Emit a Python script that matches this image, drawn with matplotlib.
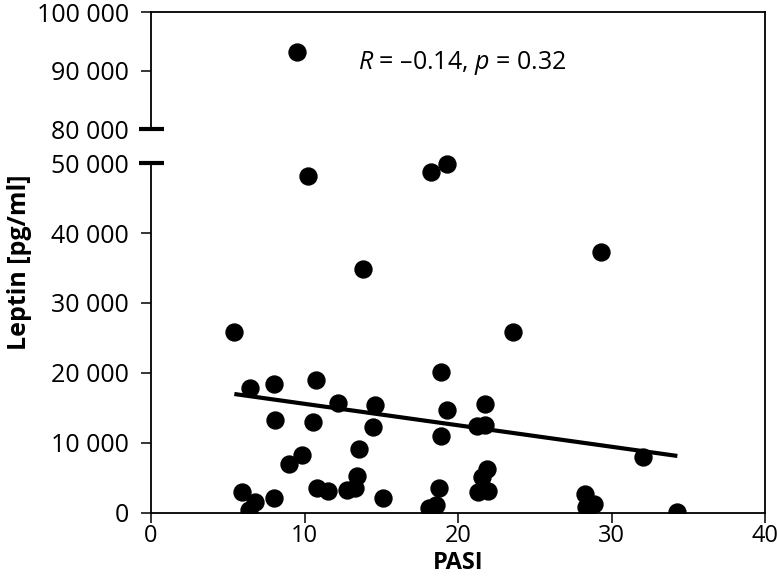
import numpy as np
import matplotlib
matplotlib.use("Agg")
import matplotlib.pyplot as plt
from matplotlib.ticker import FuncFormatter

plt.rcParams["font.family"] = ["Open Sans", "DejaVu Sans"]
plt.rcParams["mathtext.fontset"] = "custom"
plt.rcParams["mathtext.rm"] = "Open Sans"
plt.rcParams["mathtext.it"] = "Open Sans:italic"

# PASI vs leptin
pasi = [5.43, 6.45, 8.01, 10.75, 12.16, 14.61, 18.89, 19.26, 21.76, 21.26,
        21.76, 8.08, 10.53, 14.48, 18.89, 13.53, 9.82, 9.01, 21.87, 21.54,
        13.40, 5.93, 10.84, 11.55, 12.75, 13.30, 18.78, 21.32, 21.98, 6.78,
        6.41, 8.01, 15.13, 18.13, 18.55, 23.60, 10.25, 18.24, 19.26, 13.79,
        29.30, 32.07, 28.27, 28.86, 28.34, 34.29, 9.53]
leptin = [25800, 17800, 18500, 19000, 15750, 15450, 20200, 14700, 15600, 12450,
          12600, 13300, 13000, 12250, 11050, 9200, 8300, 7000, 6300, 5200,
          5250, 3050, 3550, 3200, 3300, 3600, 3550, 3050, 3200, 1600,
          450, 2100, 2200, 700, 1150, 25800, 48150, 48700, 49850, 34850,
          37350, 8050, 2700, 1300, 800, 200, 93200]

# regression line ends
fit_x = [5.43, 34.29]
fit_y = [17000, 8150]

low_ticks = [0, 10000, 20000, 30000, 40000, 50000]
high_ticks = [80000, 90000, 100000]
x_ticks = [0, 10, 20, 30, 40]

# broken y axis: 0-50000 and 80000-100000 on one axes
bp = np.array([50000.0, 80000.0])
def fwd(y):
    y = np.asarray(y, dtype=float)
    return np.where(y <= 50000, y * 350 / 50000,
           np.where(y >= 80000, 384 + (y - 80000) * 117 / 20000,
                    350 + (y - 50000) * 34 / 30000))
def inv(t):
    t = np.asarray(t, dtype=float)
    return np.where(t <= 350, t * 50000 / 350,
           np.where(t >= 384, 80000 + (t - 384) * 20000 / 117,
                    50000 + (t - 350) * 30000 / 34))

fig = plt.figure(figsize=(7.77, 5.85), dpi=100)
ax = fig.add_axes([151/777, 72/585, 614/777, 501/585])
ax.set_yscale("function", functions=(fwd, inv))
ax.set_xlim(0, 40)
ax.set_ylim(0, 100000)

ax.plot(fit_x, fit_y, color="black", lw=3, solid_capstyle="butt", zorder=2)
ax.plot(pasi, leptin, "o", color="black", ms=12.2, mec="black", zorder=3)

FS = 18
ax.set_xticks(x_ticks)
ax.set_yticks(low_ticks + high_ticks)
ax.yaxis.set_major_formatter(FuncFormatter(lambda v, p: f"{v:,.0f}".replace(",", " ")))
ax.tick_params(direction="out", length=7, width=1.1, labelsize=FS, colors="black")
ax.tick_params(axis="y", pad=9)
ax.tick_params(axis="x", pad=1, labelsize=17)

for s in ["top", "right", "bottom"]:
    ax.spines[s].set_linewidth(1.3)
ax.spines["left"].set_visible(False)
for seg in ([0, 50000], [80000, 100000]):
    ax.plot([0, 0], seg, color="black", lw=1.3, clip_on=False, zorder=4)
for b in bp:
    ax.plot(0, b, marker="_", ms=18, mew=3, color="black", clip_on=False, zorder=5)

ax.text(13.49, 91300, "$R$ = \u20130.14, $p$ = 0.32", fontsize=FS, va="center", ha="left")

ax.set_xlabel("PASI", fontsize=17, fontweight="bold", labelpad=2)
ax.set_ylabel("Leptin [pg/ml]", fontsize=FS, fontweight="bold", labelpad=3)

fig.savefig("out.png", dpi=100)
